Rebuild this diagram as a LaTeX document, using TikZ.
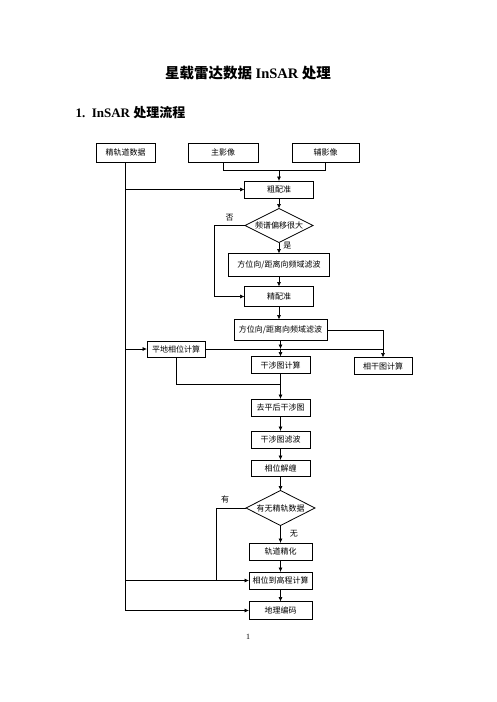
\documentclass[tikz,border=0pt]{standalone}
\usepackage{fontspec}
\setmainfont{Liberation Serif}
\newfontfamily\cjk{Noto Sans CJK SC}
\usetikzlibrary{positioning,arrows.meta,shapes.geometric,calc}
\tikzset{
  box/.style={draw, line width=0.8pt, align=center, font=\cjk\fontsize{8}{9.5}\selectfont, inner sep=1pt, outer sep=0pt, minimum width=59pt, minimum height=17pt},
  test/.style={box, diamond, aspect=2, inner sep=0pt, minimum width=68pt, minimum height=34pt},
  flow/.style={-{Latex[length=4.5pt, width=4pt]}, line width=0.7pt},
  link/.style={line width=0.7pt},
  lbl/.style={font=\cjk\fontsize{8}{9.5}\selectfont, inner sep=1pt},
}

\begin{document}
\begin{tikzpicture}[x=1pt, y=-1pt]
  \useasboundingbox (0,0) rectangle (496,702);
  % headings
  \node (title) at (248,73) {\bfseries\fontsize{14.5}{17}\selectfont{\cjk 星载雷达数据} InSAR {\cjk 处理}};
  \node[anchor=west] (head) at (72,113) {\bfseries\fontsize{13}{16}\selectfont 1.\ \ InSAR {\cjk 处理流程}};
  % input data
  \node[box, minimum height=19pt] (orbit) at (125.5,152.5) {精轨道数据};
  \node[box, minimum width=70pt, minimum height=19pt] (master) at (223,152.5) {主影像};
  \node[box, minimum width=67pt, minimum height=19pt] (slave) at (325.5,152.5) {辅影像};
  % registration
  \node[box, minimum width=69pt] (coarse) at (279,189.5) {粗配准};
  \node[test, below=10.5pt of coarse] (shift) {频谱偏移很大};
  \node[box, minimum width=101pt, minimum height=23pt, below=11pt of shift] (filtA) {方位向/距离向频域滤波};
  \node[box, minimum width=69pt, minimum height=20pt, below=10pt of filtA] (fine) {精配准};
  \node[box, minimum width=93pt, minimum height=21pt, below=13pt of fine, xshift=1.5pt] (filtB) {方位向/距离向频域滤波};
  % interferogram
  \node[box, minimum width=58pt, minimum height=16pt] (flat) at (176,349) {平地相位计算};
  \node[box, below=16pt of filtB] (ifg) {干涉图计算};
  \node[box, minimum width=58pt] (coh) at (383,366) {相干图计算};
  \node[box, below=25.5pt of ifg] (deflat) {去平后干涉图};
  \node[box, below=15pt of deflat] (ifgfilt) {干涉图滤波};
  \node[box, minimum height=16pt, below=12pt of ifgfilt] (unwrap) {相位解缠};
  % height and geocoding
  \node[test, minimum width=69pt, minimum height=35pt, below=14.5pt of unwrap] (orbchk) {有无精轨数据};
  \node[box, minimum width=63pt, below=17.5pt of orbchk] (refine) {轨道精化};
  \node[box, minimum width=63pt, below=12pt of refine] (dem) {相位到高程计算};
  \node[box, minimum width=63pt, minimum height=18pt, below=12.5pt of dem] (geo) {地理编码};
  \node[font=\fontsize{8}{9}\selectfont] (page) at (248,637) {1};
  % arrows
  \draw[link] (master.south) -- ++(0,8) coordinate (mj) -| (slave.south);
  \draw[flow] (mj -| coarse.north) -- (coarse.north);
  \draw[flow] (orbit.south) |- (geo.west);
  \draw[flow] (orbit.south |- coarse.west) -- (coarse.west);
  \draw[flow] (orbit.south |- flat.west) -- (flat.west);
  \draw[flow] (orbit.south |- dem.west) -- (dem.west);
  \draw[flow] (coarse) -- (shift);
  \draw[flow] (shift) -- node[lbl, right=3pt, pos=0.3]{是} (filtA);
  \draw[flow] (shift.west) -- node[lbl, above=3pt]{否} ++(-31,0) |- (fine.west);
  \draw[flow] (filtA) -- (fine);
  \draw[flow] (fine.south) -- (fine.south |- filtB.north);
  \draw[flow] (filtB.east) -| (coh.north);
  \draw[link] (flat.east) -- (flat.east -| coh.north);
  \coordinate (fj) at (filtB.south |- flat.east);
  \draw[flow] (filtB.south) -- (fj);
  \draw[flow] (fj) -- (ifg.north);
  \coordinate (ij) at ($(ifg.south)+(0,11)$);
  \draw[link] (flat.south) |- (ij);
  \draw[link] (ifg.south) -- (ij);
  \draw[flow] (ij) -- (deflat.north);
  \draw[flow] (deflat) -- (ifgfilt);
  \draw[flow] (ifgfilt) -- (unwrap);
  \draw[flow] (unwrap) -- (orbchk);
  \draw[flow] (orbchk) -- node[lbl, right=8pt, pos=0.45]{无} (refine);
  \draw[link] (orbchk.west) -- node[lbl, above=4pt, pos=0.7]{有} ++(-30,0) coordinate (oc) -- (oc |- dem.west);
  \draw[flow] (refine) -- (dem);
  \draw[flow] (dem) -- (geo);
\end{tikzpicture}
\end{document}
